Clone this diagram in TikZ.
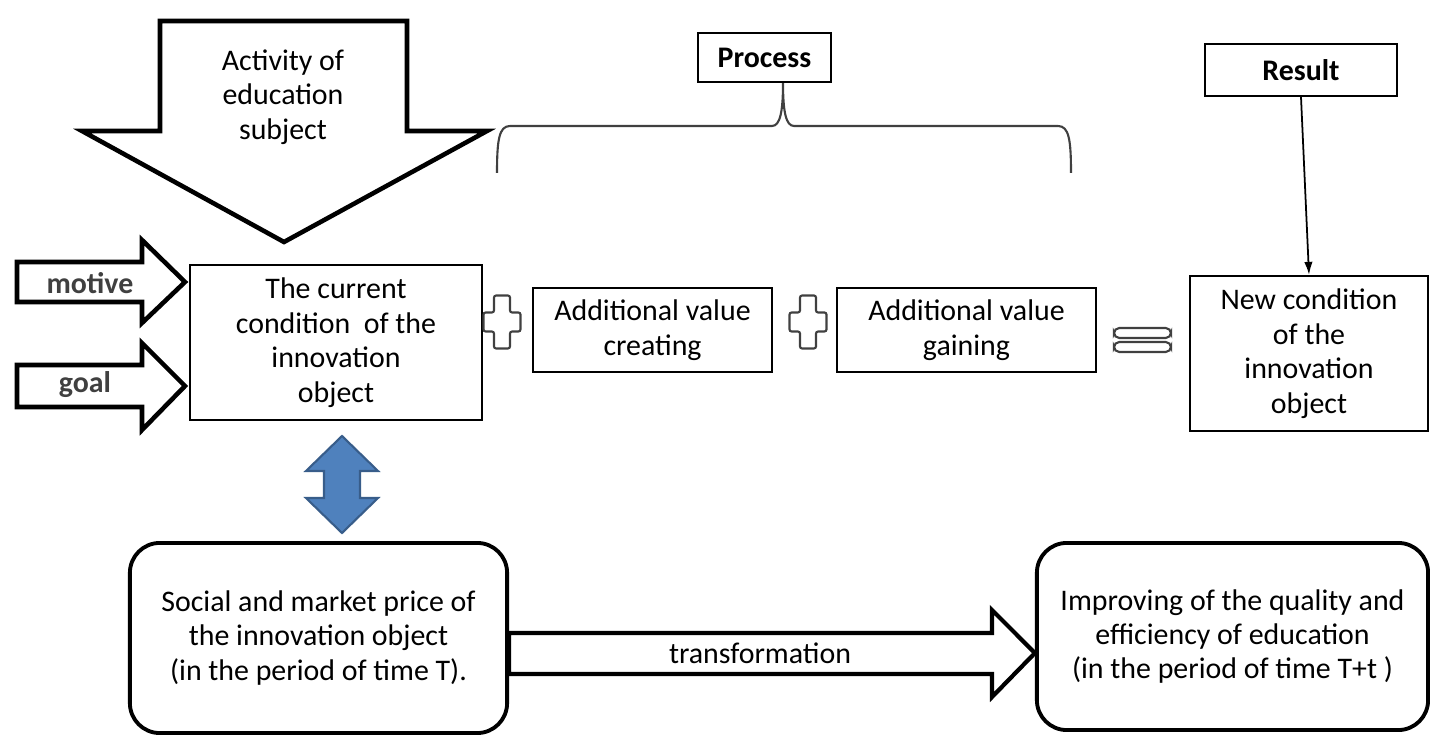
\documentclass[tikz,border=0pt]{standalone}
\usepackage{fontspec}
\setmainfont{Carlito}
\usetikzlibrary{arrows.meta,calc}
\definecolor{officeblue}{HTML}{4F81BD}
\definecolor{officeedge}{HTML}{385D8A}

\begin{document}
\begin{tikzpicture}[x=0.01cm,y=-0.01cm,
  txt/.style={align=center,font=\fontsize{8.5}{9.8}\selectfont},
  box/.style={draw,line width=.6pt,txt,inner sep=0pt},
  rbox/.style={draw,line width=1.1pt,rounded corners=8.5pt,txt,inner sep=0pt},
  blockarrow/.style={draw,line width=1.3pt,line join=miter},
  sign/.style={draw=black!75,line width=.6pt,rounded corners=.6pt}]
\useasboundingbox (0,0) rectangle (1430,737);
% big arrow from above
\draw[blockarrow] (160,21)--(407,21)--(407,131)--(487,131)--(284,242)--(82,131)--(160,131)--cycle;
\node[txt] (act) at (283,97) {Activity of\\education\\subject};
% motive and goal
\draw[blockarrow] (17,262)--(142,262)--(142,240)--(185,282)--(142,323)--(142,302)--(17,302)--cycle;
\draw[blockarrow] (17,365)--(142,365)--(142,343)--(185,386)--(142,430)--(142,407)--(17,407)--cycle;
\node[txt,font=\fontsize{8.5}{9.8}\selectfont\bfseries,text=black!75] (mot) at (90,283) {motive};
\node[txt,font=\fontsize{8.5}{9.8}\selectfont\bfseries,text=black!75] (goal) at (85,385) {goal};
% the chain of boxes
\node[box,minimum width=2.92cm,minimum height=1.55cm] (cur) at (336,342.5) {The current\\condition\ \ of the\\innovation\\object};
\node[box,minimum width=2.39cm,minimum height=.84cm] (cre) at (652.5,330) {Additional value\\creating};
\node[box,minimum width=2.58cm,minimum height=.84cm] (gai) at (966.5,330) {Additional value\\gaining};
\node[box,minimum width=2.38cm,minimum height=1.55cm] (newc) at (1309,353.5) {New condition\\of the\\innovation\\object};
\foreach \cx in {502,808}
  \draw[sign,shift={(\cx,322)}] (-8,-26.5)--(8,-26.5)--(8,-9.5)--(18.5,-9.5)--(18.5,9.5)--(8,9.5)--(8,26.5)--(-8,26.5)--(-8,9.5)--(-18.5,9.5)--(-18.5,-9.5)--(-8,-9.5)--cycle;
\draw[sign,rounded corners=1.5pt] (1114,328) rectangle (1171,338);
\draw[sign,rounded corners=1.5pt] (1114,342) rectangle (1171,352);
% process and result
\node[box,minimum width=1.33cm,minimum height=.49cm,font=\fontsize{8.5}{9.8}\selectfont\bfseries] (proc) at (764.5,57.5) {Process};
\node[box,minimum width=1.92cm,minimum height=.52cm,font=\fontsize{8.5}{9.8}\selectfont\bfseries] (res) at (1301,70) {Result};
\coordinate (cusp) at ([xshift=.185cm]proc.south);
\draw[black!75,line width=.6pt] (497,173) .. controls (497,140) and (499,126) .. (510,126) -- (772,126)
  .. controls (780,126) and (783,112) .. (cusp) .. controls (783,112) and (786,126) .. (794,126)
  -- (1058,126) .. controls (1069,126) and (1071,140) .. (1071,173);
\draw[line width=.5pt,-{Latex[length=3.7pt,width=2.4pt]}] (res.south) -- (newc.north);
% blue two-way arrow
\draw[fill=officeblue,draw=officeedge,line width=.6pt] (342,436)--(378,471)--(360,471)--(360,498)--(378,498)--(342,533)--(306,498)--(324,498)--(324,471)--(306,471)--cycle;
% bottom row
\node[rbox,minimum width=3.77cm,minimum height=1.9cm] (soc) at (318.5,638) {Social and market price of\\the innovation object\\(in the period of time T).};
\node[rbox,minimum width=3.91cm,minimum height=1.87cm] (imp) at (1232.5,636.5) {Improving of the quality and\\efficiency of education\\(in the period of time T+t )};
\draw[blockarrow,line width=1.2pt] (soc.east |- 0,633)--(992,633)--(992,610)--(imp.west |- 0,653)--(992,697)--(992,674)--(soc.east |- 0,674)--cycle;
\node[txt] (tra) at (760,653) {transformation};
\end{tikzpicture}
\end{document}
